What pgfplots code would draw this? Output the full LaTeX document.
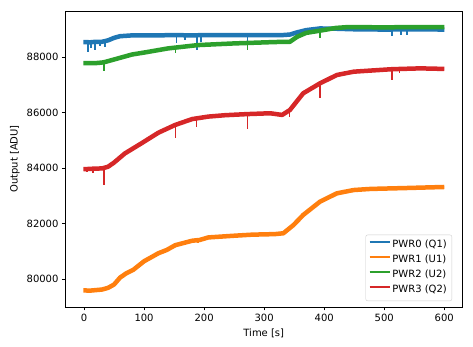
\documentclass[border=0pt]{standalone}
\usepackage{fontspec}
\setmainfont{DejaVu Sans}
\usepackage{pgfplots}
\pgfplotsset{compat=1.18}
\definecolor{c0}{HTML}{1F77B4}
\definecolor{c1}{HTML}{FF7F0E}
\definecolor{c2}{HTML}{2CA02C}
\definecolor{c3}{HTML}{D62728}
\begin{document}
\fontsize{10}{12}\selectfont
\begin{tikzpicture}
\begin{axis}[
 scale only axis, width=396.5pt, height=296pt,
 xmin=-30.8, xmax=629.5, ymin=78990, ymax=89670,
 xtick={0,100,...,600}, ytick={80000,82000,...,88000},
 tick align=outside, xtick pos=left, ytick pos=left, major tick length=3.5pt,
 tick style={black, line width=0.8pt},
 axis line style={line width=0.8pt},
 /pgf/number format/assume math mode=true,
 /pgf/number format/.cd, fixed, 1000 sep={}, /pgfplots/.cd,
 scaled y ticks=false,
 tick label style={font=\fontsize{10}{12}\selectfont},
 label style={font=\fontsize{10}{12}\selectfont},
 xlabel={Time [s]}, ylabel={Output [ADU]},
 unbounded coords=jump,
 legend cell align=left,
 legend style={at={(rel axis cs:0.975,0.02)}, anchor=south east, draw=black!20, rounded corners=2pt, fill=white,
   font=\fontsize{10}{12}\selectfont, inner xsep=3pt, inner ysep=3pt, row sep=0pt,
   nodes={text height=8pt, text depth=3pt, inner ysep=2pt}},
 legend image code/.code={\draw[#1] (0pt,3.5pt) -- (20pt,3.5pt);},
]
\addlegendimage{c0, line width=1.7pt}\addlegendentry{PWR0 (Q1)}
\addlegendimage{c1, line width=1.7pt}\addlegendentry{PWR1 (U1)}
\addlegendimage{c2, line width=1.7pt}\addlegendentry{PWR2 (U2)}
\addlegendimage{c3, line width=1.7pt}\addlegendentry{PWR3 (Q2)}
% PWR0 (Q1)
\addplot[c0, line width=4.5pt, line join=round, forget plot] coordinates {
(-1,88550) (10,88540) (20,88560) (30,88560) (40,88610) (50,88700) (60,88760) (80,88790) (100,88790) (120,88790) (150,88800) (180,88790) (200,88800) (250,88800) (300,88800) (330,88800) (343,88820) (355,88900) (370,88980) (393,89040) (420,89030) (450,89010) (500,89000) (550,89010) (600,89000)};
\addplot[c0, line width=1.5pt, forget plot] coordinates {
(7,88550) (7,88200) (7,nan) (12,88540) (12,88330) (12,nan) (18,88550) (18,88260) (18,nan) (27,88560) (27,88400) (27,nan) (35,88570) (35,88380) (35,nan)
(154,88800) (154,88500) (154,nan) (168,88800) (168,88620) (168,nan) (188,88790) (188,88260) (188,nan) (195,88800) (195,88540) (195,nan) (272,88800) (272,88560) (272,nan)
(513,89000) (513,88770) (513,nan) (528,89000) (528,88800) (528,nan) (538,89000) (538,88790) (538,nan)};
% PWR1 (U1)
\addplot[c1, line width=4.5pt, line join=round, forget plot] coordinates {
(-1,79590) (10,79580) (20,79600) (30,79620) (40,79680) (50,79800) (60,80050) (70,80200) (82,80330) (100,80640) (124,80930) (138,81050) (152,81220) (180,81380) (193,81410) (207,81500) (249,81560) (280,81600) (318,81620) (332,81650) (349,81950) (365,82310) (393,82790) (421,83090) (449,83210) (477,83250) (532,83280) (600,83320)};
\addplot[c1, line width=1.5pt, forget plot] coordinates {
(190,81420) (190,81300) (190,nan)};
% PWR2 (U2)
\addplot[c2, line width=4.5pt, line join=round, forget plot] coordinates {
(-1,87790) (10,87790) (20,87790) (30,87810) (35,87830) (45,87890) (60,87980) (80,88100) (100,88170) (140,88320) (190,88440) (250,88500) (318,88550) (343,88560) (355,88740) (370,88880) (393,88960) (420,89060) (440,89090) (500,89080) (550,89090) (600,89090)};
\addplot[c2, line width=1.5pt, forget plot] coordinates {
(33,87810) (33,87515) (33,nan) (152,88330) (152,88150) (152,nan) (272,88520) (272,88260) (272,nan) (393,88960) (393,88680) (393,nan)};
% PWR3 (Q2)
\addplot[c3, line width=4.5pt, line join=round, forget plot] coordinates {
(-1,83960) (15,83980) (30,83990) (40,84050) (50,84200) (68,84530) (96,84900) (124,85280) (152,85560) (180,85770) (207,85860) (235,85910) (272,85950) (310,85980) (330,85920) (343,86100) (365,86700) (393,87060) (421,87360) (449,87480) (477,87520) (513,87570) (560,87600) (600,87580)};
\addplot[c3, line width=1.5pt, forget plot] coordinates {
(5,83970) (5,83850) (5,nan) (15,83980) (15,83830) (15,nan) (33,83990) (33,83390) (33,nan) (152,85560) (152,85076) (152,nan) (187,85790) (187,85500) (187,nan)
(272,85950) (272,85400) (272,nan) (342,86050) (342,85850) (342,nan) (393,87060) (393,86540) (393,nan) (513,87570) (513,87180) (513,nan) (525,87570) (525,87450) (525,nan)};
\end{axis}
\path (current axis.south west) ++(-65.5pt,-40pt);
\path (current axis.north east) ++(11pt,11pt);
\end{tikzpicture}
\end{document}
